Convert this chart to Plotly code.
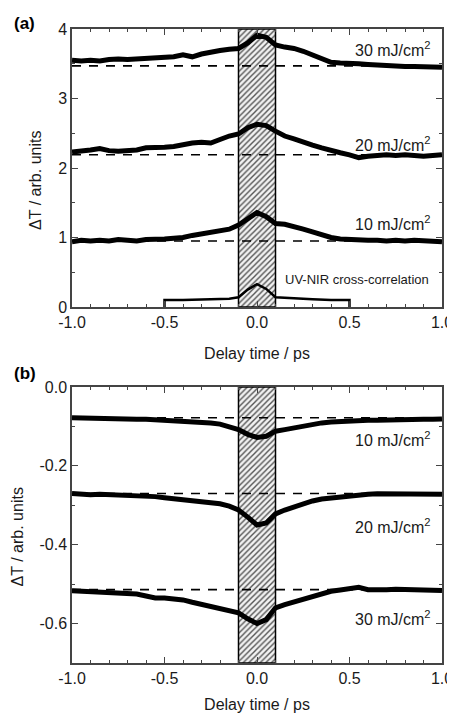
import plotly.graph_objects as go

# ---------------- data ----------------
delay = [round(-1.0 + 0.05 * i, 2) for i in range(41)]

a_30 = [3.55, 3.54, 3.55, 3.54, 3.56, 3.57, 3.56, 3.57, 3.58, 3.58, 3.59, 3.60, 3.63, 3.60, 3.64, 3.67,
        3.69, 3.71, 3.72, 3.80, 3.91, 3.88, 3.77, 3.74, 3.72, 3.68, 3.63, 3.58, 3.52, 3.51, 3.51, 3.50,
        3.49, 3.48, 3.47, 3.47, 3.46, 3.46, 3.46, 3.46, 3.45]
a_20 = [2.23, 2.24, 2.26, 2.28, 2.25, 2.24, 2.25, 2.26, 2.29, 2.29, 2.30, 2.31, 2.34, 2.36, 2.37, 2.36,
        2.41, 2.46, 2.49, 2.58, 2.63, 2.61, 2.53, 2.46, 2.42, 2.37, 2.33, 2.29, 2.25, 2.22, 2.19, 2.15,
        2.17, 2.18, 2.19, 2.18, 2.19, 2.18, 2.17, 2.18, 2.19]
a_10 = [0.94, 0.96, 0.95, 0.96, 0.95, 0.97, 0.96, 0.95, 0.97, 0.97, 0.98, 0.99, 1.00, 1.03, 1.05, 1.07,
        1.09, 1.12, 1.18, 1.27, 1.36, 1.30, 1.20, 1.19, 1.16, 1.12, 1.08, 1.04, 1.00, 0.98, 0.97, 0.97,
        0.96, 0.96, 0.95, 0.96, 0.95, 0.96, 0.95, 0.94, 0.94]
a_base = [3.47, 2.19, 0.95]
a_labels = ["30 mJ/cm<sup>2</sup>", "20 mJ/cm<sup>2</sup>", "10 mJ/cm<sup>2</sup>"]
a_label_y = [3.71, 2.35, 1.21]

xc_delay = [-0.5, -0.5, -0.4, -0.3, -0.2, -0.15, -0.1, -0.05, 0.0, 0.05, 0.1, 0.15, 0.2, 0.3, 0.4, 0.5, 0.5]
xc_val = [0.0, 0.10, 0.10, 0.11, 0.12, 0.12, 0.14, 0.25, 0.33, 0.26, 0.14, 0.13, 0.12, 0.11, 0.10, 0.10, 0.0]

b_10 = [-0.078, -0.079, -0.079, -0.080, -0.080, -0.081, -0.081, -0.082, -0.082, -0.083, -0.084, -0.085,
        -0.086, -0.088, -0.089, -0.091, -0.094, -0.100, -0.108, -0.120, -0.128, -0.125, -0.112, -0.108,
        -0.104, -0.097, -0.093, -0.091, -0.089, -0.087, -0.086, -0.085, -0.084, -0.084, -0.083, -0.083,
        -0.083, -0.082, -0.082, -0.082, -0.081]
b_20 = [-0.270, -0.272, -0.273, -0.272, -0.273, -0.274, -0.273, -0.274, -0.276, -0.278, -0.281, -0.283,
        -0.285, -0.287, -0.289, -0.292, -0.296, -0.302, -0.312, -0.330, -0.350, -0.345, -0.322, -0.312,
        -0.304, -0.296, -0.289, -0.284, -0.281, -0.279, -0.277, -0.275, -0.272, -0.271, -0.271, -0.272,
        -0.272, -0.271, -0.272, -0.272, -0.272]
b_30 = [-0.517, -0.518, -0.519, -0.523, -0.522, -0.522, -0.523, -0.525, -0.530, -0.535, -0.535, -0.536,
        -0.540, -0.546, -0.552, -0.558, -0.563, -0.568, -0.573, -0.588, -0.600, -0.590, -0.560, -0.552,
        -0.545, -0.537, -0.529, -0.524, -0.518, -0.515, -0.512, -0.508, -0.514, -0.515, -0.514, -0.513,
        -0.514, -0.513, -0.514, -0.515, -0.516]
b_base = [-0.078, -0.270, -0.514]
b_labels = ["10 mJ/cm<sup>2</sup>", "20 mJ/cm<sup>2</sup>", "30 mJ/cm<sup>2</sup>"]
b_label_y = [-0.131, -0.353, -0.587]

band = [-0.1, 0.1]
a_range = [0, 4]
b_range = [-0.7, 0.0]

x_tickvals = [-1.0, -0.5, 0.0, 0.5, 1.0]
x_ticktext = ["-1.0", "-0.5", "0.0", "0.5", "1.0"]
a_tickvals = [0, 1, 2, 3, 4]
a_ticktext = ["0", "1", "2", "3", "4"]
b_tickvals = [0.0, -0.2, -0.4, -0.6]
b_ticktext = ["0.0", "-0.2", "-0.4", "-0.6"]

FONT = "Liberation Sans, Arial, sans-serif"
TXT = "#1a1a1a"
AX = "#444444"

fig = go.Figure()


def add_panel(xa, ya, yr, curves, bases, labels, label_y):
    # hatched band
    fig.add_trace(go.Scatter(
        x=[band[0], band[1], band[1], band[0], band[0]],
        y=[yr[0], yr[0], yr[1], yr[1], yr[0]],
        xaxis=xa, yaxis=ya, mode="lines", fill="toself",
        fillcolor="#eeeeee",
        fillpattern=dict(shape="/", fgcolor="#555555", bgcolor="#f2f2f2", size=4, solidity=0.35),
        line=dict(color="black", width=1.5), showlegend=False, hoverinfo="skip"))
    for b in bases:
        fig.add_trace(go.Scatter(x=[-1, 1], y=[b, b], xaxis=xa, yaxis=ya, mode="lines",
                                 line=dict(color="black", width=1.6, dash="9px,8px"),
                                 showlegend=False))
    for c in curves:
        fig.add_trace(go.Scatter(x=delay, y=c, xaxis=xa, yaxis=ya, mode="lines",
                                 line=dict(color="black", width=5), showlegend=False))
    for t, y in zip(labels, label_y):
        fig.add_annotation(x=0.735, y=y, xref=xa, yref=ya, text=t, showarrow=False,
                           font=dict(size=16, color=TXT, family=FONT))


add_panel("x", "y", a_range, [a_30, a_20, a_10], a_base, a_labels, a_label_y)
fig.add_trace(go.Scatter(x=xc_delay, y=xc_val, xaxis="x", yaxis="y", mode="lines",
                         line=dict(color="black", width=2.5), showlegend=False))
fig.add_annotation(x=0.54, y=0.39, xref="x", yref="y", text="UV-NIR cross-correlation",
                   showarrow=False, font=dict(size=13, color=TXT, family=FONT))
add_panel("x2", "y2", b_range, [b_10, b_20, b_30], b_base, b_labels, b_label_y)

axis_common = dict(showline=True, linecolor=AX, linewidth=1.5, mirror="ticks",
                   ticks="inside", ticklen=6, tickwidth=1.2, tickcolor=AX,
                   showgrid=False, zeroline=False, automargin=False, tickmode="array",
                   tickfont=dict(size=16, color=TXT, family=FONT))
xtitle = dict(text="Delay time / ps", font=dict(size=16, color=TXT, family=FONT), standoff=18)

# the page body has an 8px margin, so the figure is 8px smaller than the window
fig.update_layout(
    template="none",
    width=447, height=705,
    margin=dict(l=64, r=13, t=21, b=50),
    plot_bgcolor="white", paper_bgcolor="white",
    xaxis=dict(domain=[0, 1], anchor="y", range=[-1, 1], tickvals=x_tickvals, ticktext=x_ticktext,
               minor=dict(ticks="inside", tickmode="linear", tick0=0, dtick=0.1, ticklen=3, tickcolor=AX),
               title=xtitle, **axis_common),
    yaxis=dict(domain=[0.5615, 1], anchor="x", range=a_range, tickvals=a_tickvals, ticktext=a_ticktext,
               minor=dict(ticks="inside", tickmode="linear", tick0=0, dtick=0.5, ticklen=3, tickcolor=AX),
               **axis_common),
    xaxis2=dict(domain=[0, 1], anchor="y2", range=[-1, 1], tickvals=x_tickvals, ticktext=x_ticktext,
                minor=dict(ticks="inside", tickmode="linear", tick0=0, dtick=0.1, ticklen=3, tickcolor=AX),
                title=xtitle, **axis_common),
    yaxis2=dict(domain=[0, 0.4353], anchor="x2", range=b_range, tickvals=b_tickvals, ticktext=b_ticktext,
                minor=dict(ticks="inside", tickmode="linear", tick0=0, dtick=0.1, ticklen=3, tickcolor=AX),
                **axis_common),
)

# y titles and panel labels
fig.add_annotation(x=-0.0973, y=0.762, xref="paper", yref="paper", text="ΔT / arb. units",
                   textangle=-90, showarrow=False, xanchor="center", yanchor="middle",
                   font=dict(size=16, color=TXT, family=FONT))
fig.add_annotation(x=-0.147, y=0.199, xref="paper", yref="paper", text="ΔT / arb. units",
                   textangle=-90, showarrow=False, xanchor="center", yanchor="middle",
                   font=dict(size=16, color=TXT, family=FONT))
fig.add_annotation(x=-0.162, y=1.008, xref="paper", yref="paper", text="<b>(a)</b>", showarrow=False,
                   xanchor="left", yanchor="middle", font=dict(size=17, color="black", family=FONT))
fig.add_annotation(x=-0.162, y=0.457, xref="paper", yref="paper", text="<b>(b)</b>", showarrow=False,
                   xanchor="left", yanchor="middle", font=dict(size=17, color="black", family=FONT))

fig.write_html("out.html")
